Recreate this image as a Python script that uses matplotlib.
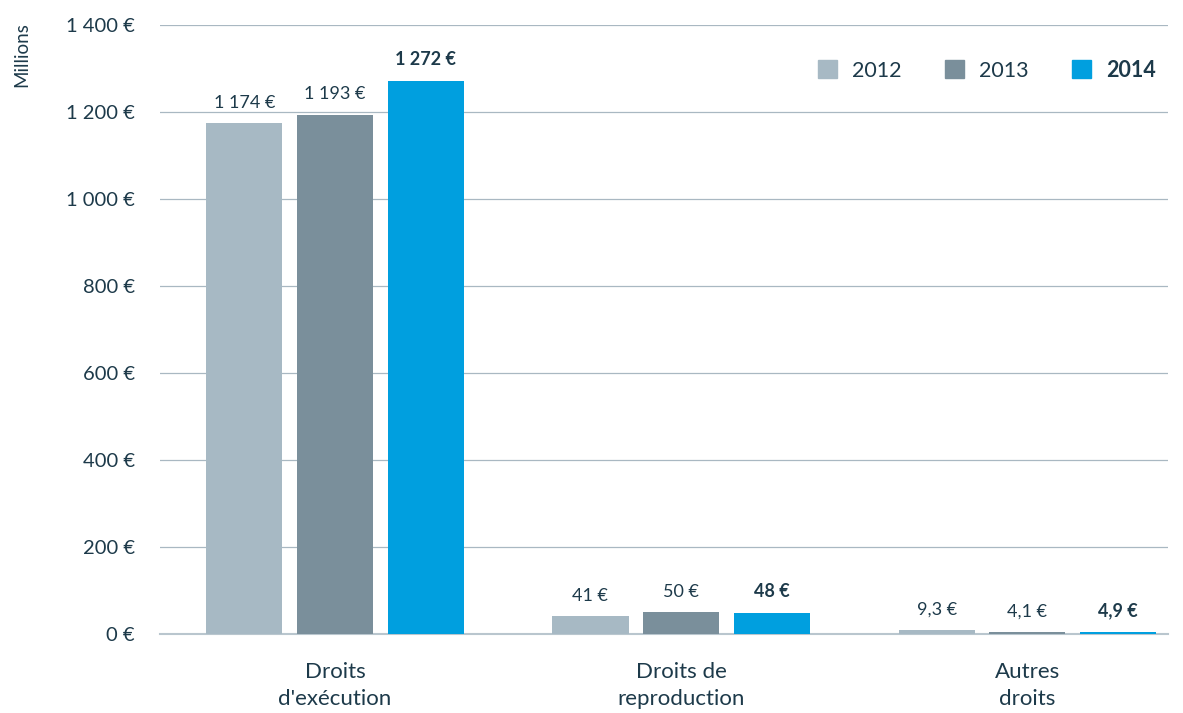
import numpy as np
import matplotlib.pyplot as plt
from matplotlib.patches import Patch

plt.rcParams['font.family'] = ['Lato', 'DejaVu Sans']

categories = ["Droits\nd'exécution", "Droits de\nreproduction", "Autres\ndroits"]
years = ['2012', '2013', '2014']
v2012 = [1174, 41, 9.3]
v2013 = [1193, 50, 4.1]
v2014 = [1272, 48, 4.9]
lab2012 = ['1 174 €', '41 €', '9,3 €']
lab2013 = ['1 193 €', '50 €', '4,1 €']
lab2014 = ['1 272 €', '48 €', '4,9 €']
yticks = [0, 200, 400, 600, 800, 1000, 1200, 1400]
ytick_labels = ['0 €', '200 €', '400 €', '600 €', '800 €', '1 000 €', '1 200 €', '1 400 €']

colors = ['#a7b9c4', '#7a8f9b', '#009fdf']
txt = '#1d3a4a'

fig = plt.figure(figsize=(11.83, 7.13), dpi=100)
ax = fig.add_axes([0.135, 0.111, 0.852, 0.854])

x = np.arange(len(categories))
w = 0.22
step = 0.262
series = [(v2012, lab2012), (v2013, lab2013), (v2014, lab2014)]
for i, (vals, labs) in enumerate(series):
    pos = x + (i - 1) * step
    ax.bar(pos, vals, width=w, color=colors[i], zorder=3)
    for p, v, l in zip(pos, vals, labs):
        ax.annotate(l, (p, v), xytext=(0, 9), textcoords='offset points',
                    ha='center', va='bottom', fontsize=13, color=txt,
                    fontweight='bold' if i == 2 else 'normal')

ax.set_ylim(0, 1400)
ax.set_xlim(-0.506, 2.405)
ax.set_yticks(yticks)
ax.set_yticklabels(ytick_labels, fontsize=14.5, color=txt)
ax.set_xticks(x)
ax.set_xticklabels(categories, fontsize=16, color=txt, linespacing=1.45)
ax.tick_params(axis='y', length=0, pad=18)
ax.tick_params(axis='x', length=0, pad=20)
ax.grid(axis='y', color='#a9b8c2', linewidth=0.9, zorder=0)
for s in ['top', 'right', 'left']:
    ax.spines[s].set_visible(False)
ax.spines['bottom'].set_color('#b9c6ce')
ax.spines['bottom'].set_linewidth(1.5)

fig.text(22 / 1183, 1 - 55 / 713, 'Millions', rotation=90, ha='center', va='center',
         fontsize=13.5, color=txt)

handles = [Patch(color=c) for c in colors]
leg = ax.legend(handles, years, ncol=3, frameon=False, loc='center right',
                bbox_to_anchor=(0.997, 0.926), borderaxespad=0, fontsize=15.5,
                handlelength=0.9, handleheight=0.9, handletextpad=0.7,
                columnspacing=2.0)
for t in leg.get_texts():
    t.set_color(txt)
leg.get_texts()[2].set_fontweight('bold')

fig.savefig('out.png', dpi=100)
